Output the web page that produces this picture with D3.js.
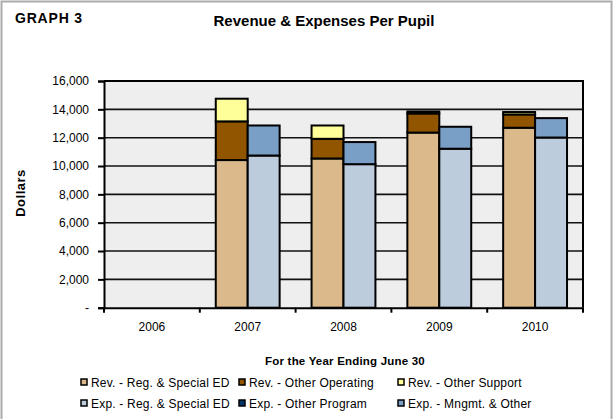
<!DOCTYPE html>
<html><head><meta charset="utf-8">
<script src="https://cdn.jsdelivr.net/npm/d3@7/dist/d3.min.js"></script>
<style>
html,body{margin:0;padding:0;background:#fff;}
svg{display:block;font-family:Arial,"Liberation Sans",sans-serif;}
</style></head>
<body>
<svg id="chart" width="613" height="419"></svg>
<script>
const years = ["2006","2007","2008","2009","2010"];
const revReg = [0, 10420, 10530, 12360, 12700];
const revOtherOp = [0, 2730, 1390, 1350, 940];
const revOtherSupport = [0, 1600, 940, 140, 170];
const expReg = [0, 10740, 10130, 11220, 12010];
const expOtherProgram = [0, 0, 0, 0, 0];
const expMngmt = [0, 2120, 1560, 1550, 1370];
const yTicks = [0, 2000, 4000, 6000, 8000, 10000, 12000, 14000, 16000];

const seriesNames = ["Rev. - Reg. & Special ED","Rev. - Other Operating","Rev. - Other Support",
                     "Exp. - Reg. & Special ED","Exp. - Other Program","Exp. - Mngmt. & Other"];
const colors = ["#DBB98A","#915500","#FFFF99","#BCCCDC","#003366","#7A9FC6"];

const revSeries = [revReg, revOtherOp, revOtherSupport];
const expSeries = [expReg, expOtherProgram, expMngmt];

const svg = d3.select("#chart");
const W = 613, H = 419;
const L = 104, R = 583, T = 81, B = 307.7;
const FF = "Arial,'Liberation Sans',sans-serif";

// outer border
svg.append("rect").attr("x",1.5).attr("y",1.5).attr("width",W-3).attr("height",H+5)
  .attr("fill","#fff").attr("stroke","#ABABAB").attr("stroke-width",2);

svg.append("text").attr("x",15).attr("y",23).attr("font-size",14).attr("font-weight","bold")
  .attr("letter-spacing",0.8).text("GRAPH 3");
svg.append("text").attr("x",324).attr("y",26).attr("text-anchor","middle").attr("font-size",15)
  .attr("font-weight","bold").text("Revenue & Expenses Per Pupil");

const x = d3.scaleBand().domain(years).range([L,R]).paddingInner(0).paddingOuter(0);
const sub = d3.scaleBand().domain(["rev","exp"]).range([0,x.bandwidth()]).paddingInner(0).paddingOuter(0.5);
const y = d3.scaleLinear().domain([0,16000]).range([B,T]);

// plot background
svg.append("rect").attr("x",L).attr("y",T).attr("width",R-L).attr("height",B-T).attr("fill","#EEEEEE");

// gridlines
svg.append("g").selectAll("line").data(yTicks.filter(d=>d>0 && d<16000)).join("line")
  .attr("x1",L).attr("x2",R).attr("y1",d=>y(d)).attr("y2",d=>y(d))
  .attr("stroke","#111").attr("stroke-width",1.6);

// bars
function stackRects(seriesArr, offsetKey, colorOffset){
  years.forEach((yr,i)=>{
    let base = 0;
    seriesArr.forEach((s,k)=>{
      const v = s[i];
      if(v>0){
        svg.append("rect")
          .attr("x", x(yr)+sub(offsetKey))
          .attr("width", sub.bandwidth())
          .attr("y", y(base+v))
          .attr("height", y(base)-y(base+v))
          .attr("fill", colors[colorOffset+k])
          .attr("stroke","#000").attr("stroke-width",2);
      }
      base += v;
    });
  });
}
stackRects(revSeries,"rev",0);
stackRects(expSeries,"exp",3);

// plot border top/right
svg.append("path").attr("d",`M${L},${T}H${R}V${B}`).attr("fill","none").attr("stroke","#000").attr("stroke-width",2);

// y axis
const yAxis = d3.axisLeft(y).tickValues(yTicks).tickSize(6).tickPadding(9)
  .tickFormat(d=> d===0 ? "-" : d3.format(",")(d));
const gy = svg.append("g").attr("transform",`translate(${L},0)`).call(yAxis);
gy.select(".domain").attr("stroke","#000").attr("stroke-width",2);
gy.selectAll(".tick line").attr("stroke","#000").attr("stroke-width",2);
gy.selectAll(".tick text").attr("font-size",12).attr("font-family",FF).attr("fill","#000");

// x axis
const xAxis = d3.axisBottom(x).tickSize(0).tickPadding(15);
const gx = svg.append("g").attr("transform",`translate(0,${B})`).call(xAxis);
gx.select(".domain").attr("stroke","#000").attr("stroke-width",2);
gx.selectAll(".tick text").attr("font-size",12).attr("font-family",FF).attr("fill","#000");
// boundary ticks
const bounds = years.map(yr=>x(yr)).concat([R]);
svg.append("g").selectAll("line").data(bounds).join("line")
  .attr("x1",d=>d).attr("x2",d=>d).attr("y1",B).attr("y2",B+5)
  .attr("stroke","#000").attr("stroke-width",2);

// axis titles
svg.append("text").attr("x",345).attr("y",365).attr("text-anchor","middle").attr("font-size",11.5)
  .attr("letter-spacing",0.2).attr("font-weight","bold").text("For the Year Ending June 30");
svg.append("text").attr("transform","translate(25,193) rotate(-90)").attr("text-anchor","middle")
  .attr("font-size",13).attr("letter-spacing",0.5).attr("font-weight","bold").text("Dollars");

// legend
const colX = [81, 239, 398];
const rowY = [387, 408];
seriesNames.forEach((n,i)=>{
  const cx = colX[i%3], cy = rowY[Math.floor(i/3)];
  const g = svg.append("g");
  g.append("rect").attr("x",cx).attr("y",cy-8).attr("width",6).attr("height",6)
    .attr("fill",colors[i]).attr("stroke","#000").attr("stroke-width",1.5);
  g.append("text").attr("x",cx+10).attr("y",cy).attr("font-size",12).attr("letter-spacing",0.2)
    .attr("fill","#000").text(n);
});
</script>
</body></html>
